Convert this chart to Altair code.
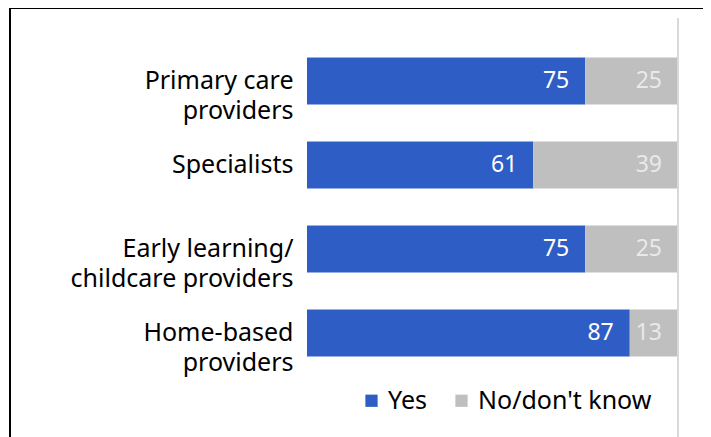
import altair as alt
import pandas as pd

categories = ["Primary care|providers", "Specialists", "Early learning/|childcare providers", "Home-based|providers"]
yes_values = [75, 61, 75, 87]
no_values = [25, 39, 25, 13]
series = ["Yes", "No/don't know"]
colors = ["#2E5EC5", "#BFBFBF"]
text_colors = ["#FFFFFF", "#E9E9E9"]

rows = []
for c, y, n in zip(categories, yes_values, no_values):
    rows.append({"cat": c, "series": series[0], "value": y, "ord": 0})
    rows.append({"cat": c, "series": series[1], "value": n, "ord": 1})
df = pd.DataFrame(rows)

FONT = "Noto Sans"

base = alt.Chart(df).transform_stack(
    stack="value", groupby=["cat"], as_=["x0", "x1"], sort=[alt.SortField("ord")]
)

yenc = alt.Y(
    "cat:N",
    sort=categories,
    scale=alt.Scale(paddingInner=0.44, paddingOuter=0.22),
    axis=alt.Axis(
        title=None, ticks=False, domain=False, labelFontSize=25, labelFont=FONT,
        labelColor="#000000", labelLimit=0, labelPadding=14, labelLineHeight=30,
        labelExpr="split(datum.label, '|')",
    ),
)

bars = base.mark_bar().encode(
    x=alt.X("x0:Q", scale=alt.Scale(domain=[0, 100]), axis=None),
    x2="x1:Q",
    y=yenc,
    color=alt.Color(
        "series:N",
        scale=alt.Scale(domain=series, range=colors),
        legend=alt.Legend(
            title=None, orient="none", direction="horizontal", legendX=52, legendY=349,
            symbolType="square", symbolSize=150, symbolStrokeWidth=0,
            labelFontSize=25, labelFont=FONT, labelColor="#000000", labelOffset=4,
            labelLimit=0, columnPadding=22,
        ),
    ),
    order=alt.Order("ord:Q"),
)

labels = base.mark_text(align="right", baseline="middle", dx=-16, fontSize=23, font=FONT).encode(
    x=alt.X("x1:Q"),
    y=alt.Y("cat:N", sort=categories),
    text=alt.Text("value:Q"),
    color=alt.Color("series:N", scale=alt.Scale(domain=series, range=text_colors), legend=None),
)

frame = alt.Chart(df).mark_rect(fill=None, stroke="#000000", strokeWidth=2).encode(
    x=alt.value(-297), x2=alt.value(400), y=alt.value(-31), y2=alt.value(430)
)
vline = alt.Chart(df).mark_rule(color="#D9D9D9", strokeWidth=1.5).encode(
    x=alt.value(371), y=alt.value(-21), y2=alt.value(430)
)

chart = alt.layer(bars, labels, vline, frame).resolve_scale(color="independent").properties(
    width=371, height=336,
    autosize=alt.AutoSizeParams(type="none"),
    padding={"left": 299, "top": 31, "right": 25, "bottom": 80},
).configure_view(stroke=None)

chart.save("out.html", embed_options={"renderer": "svg", "actions": False})
